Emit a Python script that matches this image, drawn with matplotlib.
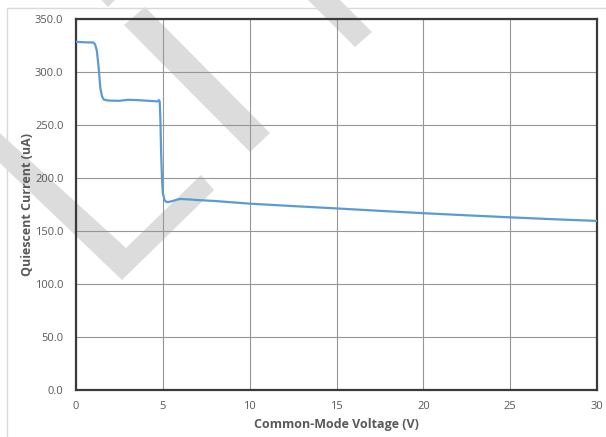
import matplotlib
matplotlib.use("Agg")
import matplotlib.pyplot as plt
from matplotlib.patches import Polygon, Rectangle

# quiescent current vs common-mode voltage
voltage = [0, 0.5, 1.0, 1.1, 1.2, 1.3, 1.4, 1.5, 1.6, 1.8, 2.0, 2.5, 3.0, 3.5,
           4.0, 4.5, 4.7, 4.78, 4.82, 4.86, 4.9, 4.95, 5.0, 5.1, 5.2, 5.3,
           5.5, 5.8, 6.0, 6.5, 7, 8, 10, 12.5, 15, 17.5, 20, 22.5, 25, 27.5, 30]
current = [328.5, 328, 327.8, 326, 320, 305, 285, 277, 274, 273.2, 273, 272.8,
           273.8, 273.5, 273, 272.5, 272.2, 273.5, 272, 255, 225, 200, 186,
           179, 177.5, 177.3, 178, 179.5, 180.2, 179.8, 179.2, 178.3, 175.8,
           173.5, 171.3, 169.0, 166.8, 164.8, 162.9, 161.1, 159.5]

x_ticks = [0, 5, 10, 15, 20, 25, 30]
y_ticks = [0, 50, 100, 150, 200, 250, 300, 350]

W, H = 606, 437
text_gray = "#595959"
plt.rcParams["font.family"] = ["Open Sans", "DejaVu Sans"]

fig = plt.figure(figsize=(W / 100, H / 100), dpi=100)
ax = fig.add_axes([76 / W, 1 - 390 / H, (597 - 76) / W, (390 - 19) / H])
ax.set_facecolor("none")


def px(pts):
    # pixel coords (y from top) -> figure fraction
    return [(x / W, 1 - y / H) for x, y in pts]


# light "preliminary" style watermark behind the chart
watermark = [
    [(92, -10), (108, 7), (125, -10)],
    [(124, 25), (145, 7), (270, 133), (250, 152)],
    [(298, -10), (355, 47), (372, 32), (330, -10)],
    [(-20, 115), (126, 248), (201, 175), (214, 190), (122, 280), (-20, 144)],
]
for shape in watermark:
    fig.patches.append(Polygon(px(shape), closed=True, transform=fig.transFigure,
                               facecolor="#dcdcdc", edgecolor="none", zorder=-2))

# chart-area border, cut off at right and bottom
fig.patches.append(Rectangle((7 / W, -0.1), 1.2, 1 - 8 / H + 0.1,
                             transform=fig.transFigure, facecolor="none",
                             edgecolor="#d9d9d9", linewidth=1, zorder=-3))

ax.plot(voltage, current, color="#5b9bd5", linewidth=1.6, zorder=3)

ax.set_xlim(0, 30)
ax.set_ylim(0, 350)
ax.set_xticks(x_ticks)
ax.set_yticks(y_ticks)
ax.set_yticklabels([f"{v:.1f}" for v in y_ticks])
ax.grid(True, color="#969696", linewidth=0.8)
ax.set_axisbelow(True)
ax.tick_params(length=0, labelsize=8, labelcolor=text_gray)
ax.tick_params(axis="y", pad=9)
ax.tick_params(axis="x", pad=8)
for s in ax.spines.values():
    s.set_color("#3a3a3a")
    s.set_linewidth(1.6)

ax.set_xlabel("Common-Mode Voltage (V)", fontsize=9, fontweight="bold",
              color=text_gray, labelpad=4)
ax.set_ylabel("Quiescent Current (uA)", fontsize=9, fontweight="bold",
              color=text_gray, labelpad=1)

fig.savefig("out.png", dpi=100)
